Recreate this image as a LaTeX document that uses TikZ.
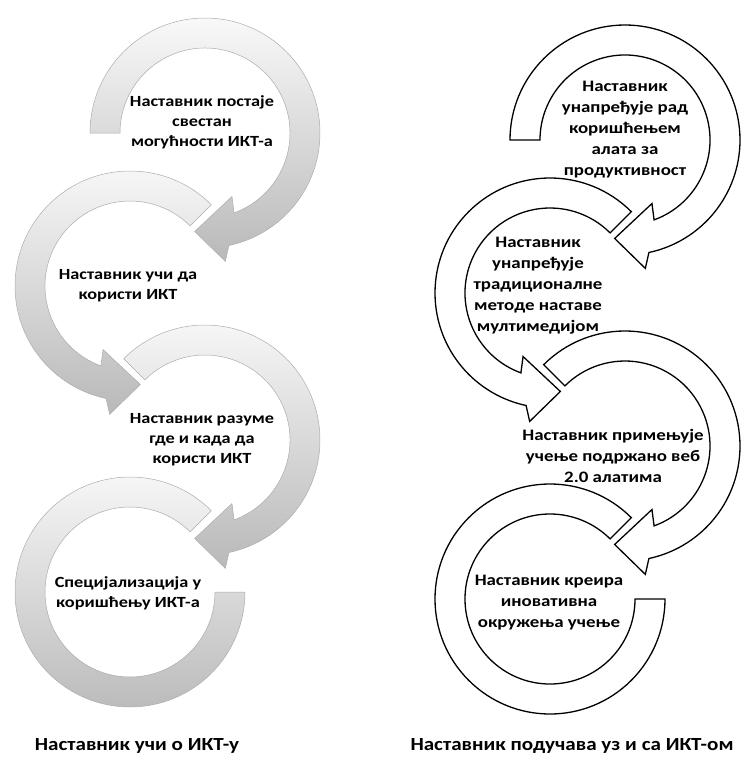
\documentclass[tikz,border=0pt]{standalone}
\usepackage{fontspec}
\setmainfont{Carlito}
\newfontfamily\ringfont[FakeStretch=1.18]{Carlito}
\newfontfamily\capfont[FakeStretch=1.14]{Carlito}
\usetikzlibrary{positioning}
\tikzset{
  x=1pt,y=1pt,
  greyring/.style={shade,top color=gray!5,bottom color=gray!55,draw=gray!65,line width=0.5pt},
  linering/.style={fill=white,draw=black,line width=1.3pt},
  ltext/.style={align=center,font=\ringfont\bfseries\fontsize{15.5}{20}\selectfont,inner sep=0pt},
  rtext/.style={align=center,font=\ringfont\bfseries\fontsize{16}{21}\selectfont,inner sep=0pt},
  colcap/.style={font=\capfont\bfseries\fontsize{18.5}{22}\selectfont,inner sep=0pt},
}
% ring turning clockwise, arrow at the bottom: #1 style, #2 centre, #3 start angle
\newcommand{\ringcw}[3]{%
  \path[#1,shift={(#2)}] (#3:115) arc[start angle=#3,end angle=-78,radius=115]
    -- (-81:130) -- (-96:99) -- (-67:69) -- (-70:85)
    arc[start angle=-70,end angle=#3,radius=85] -- cycle;}
% ring turning anticlockwise, arrow at the bottom
\newcommand{\ringccw}[3]{%
  \path[#1,shift={(#2)}] (#3:115) arc[start angle=#3,end angle=258,radius=115]
    -- (261:130) -- (276:99) -- (247:69) -- (250:85)
    arc[start angle=250,end angle=#3,radius=85] -- cycle;}
% last ring, flat end at the right
\newcommand{\ringlast}[2]{%
  \path[#1,shift={(#2)}] (45:115) arc[start angle=45,end angle=360,radius=115]
    -- (0:85) arc[start angle=360,end angle=45,radius=85] -- cycle;}

\begin{document}
\begin{tikzpicture}
  \useasboundingbox (0,0) rectangle (744,-763);
  \coordinate (l1) at (205,-133); \coordinate (l2) at (130,-286);
  \coordinate (l3) at (205,-440); \coordinate (l4) at (130,-592);
  \coordinate (r1) at (625,-140); \coordinate (r2) at (550,-293);
  \coordinate (r3) at (625,-446); \coordinate (r4) at (550,-599);

  % left column
  \ringlast{greyring}{l4}
  \ringcw{greyring}{l3}{135}
  \ringccw{greyring}{l2}{45}
  \ringcw{greyring}{l1}{180}
  \node[ltext] (t1) at (202,-122) {Наставник постаје\\свестан\\могућности ИКТ-а};
  \node[ltext] (t2) at (128,-286) {Наставник учи да\\користи ИКТ};
  \node[ltext] (t3) at (202,-440) {Наставник разуме\\где и када да\\користи ИКТ};
  \node[ltext] (t4) at (128,-593) {Специјализација у\\коришћењу ИКТ-а};

  % right column
  \ringlast{linering}{r4}
  \ringcw{linering}{r3}{135}
  \ringccw{linering}{r2}{45}
  \ringcw{linering}{r1}{180}
  \node[rtext] (s1) at (625,-130) {Наставник\\унапређује рад\\коришћењем\\алата за\\продуктивност};
  \node[rtext] (s2) at (538,-286) {Наставник\\унапређује\\традиционалне\\методе наставе\\мултимедијом};
  \node[rtext] (s3) at (613,-456) {Наставник примењује\\учење подржано веб\\2.0 алатима};
  \node[rtext] (s4) at (549,-603) {Наставник креира\\иновативна\\окружења учење};

  \node[colcap] (capl) at (137,-746) {Наставник учи о ИКТ-у};
  \node[colcap] (capr) at (572,-746) {Наставник подучава уз и са ИКТ-ом};
\end{tikzpicture}
\end{document}
